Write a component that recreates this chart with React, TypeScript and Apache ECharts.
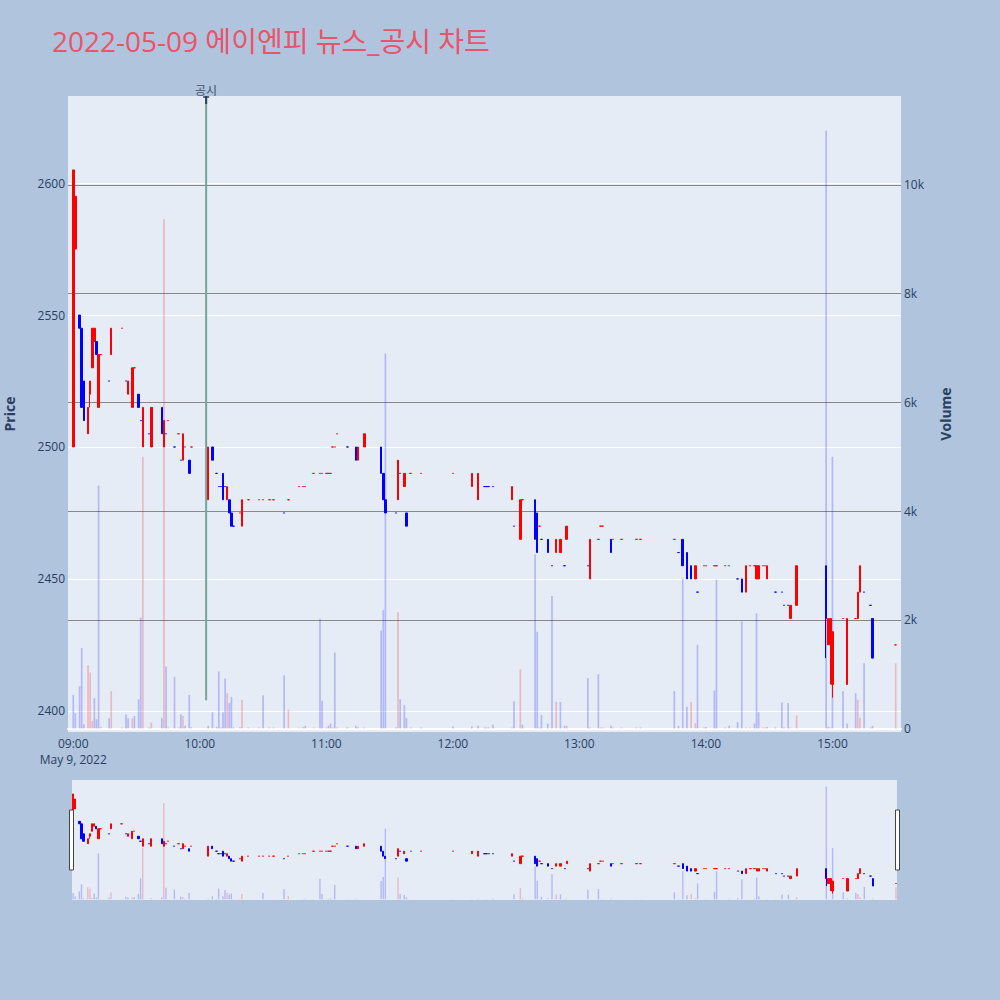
import React, { useEffect, useRef } from "react";
import * as echarts from "echarts";

const chartTitle = "2022-05-09 에이엔피 뉴스_공시 차트";
const dateLabel = "May 9, 2022";
const noticeTime = "10:03";
const noticeLabel = "공시";

const times = [
  "09:00","09:01","09:03","09:04","09:05","09:07","09:08","09:09","09:10","09:11",
  "09:12","09:13","09:17","09:18","09:23","09:25","09:26","09:28","09:29","09:31",
  "09:32","09:33","09:36","09:37","09:42","09:43","09:44","09:45","09:48","09:50",
  "09:51","09:52","09:53","09:55","09:56","10:04","10:06","10:08","10:09","10:10",
  "10:11","10:12","10:13","10:14","10:15","10:16","10:19","10:20","10:23","10:28",
  "10:30","10:33","10:35","10:40","10:42","10:47","10:49","10:50","10:54","10:57",
  "10:58","11:00","11:01","11:02","11:03","11:04","11:05","11:10","11:14","11:15",
  "11:18","11:26","11:27","11:28","11:33","11:34","11:35","11:37","11:38","11:40",
  "11:45","12:00","12:09","12:12","12:15","12:16","12:17","12:19","12:28","12:29",
  "12:32","12:33","12:39","12:40","12:41","12:42","12:45","12:47","12:49","12:51",
  "12:53","12:54","13:04","13:05","13:09","13:10","13:11","13:15","13:16","13:20",
  "13:27","13:29","13:45","13:47","13:49","13:51","13:53","13:55","13:56","13:59",
  "14:00","14:04","14:05","14:09","14:11","14:15","14:17","14:19","14:21","14:23",
  "14:24","14:25","14:27","14:28","14:29","14:33","14:36","14:37","14:39","14:40",
  "14:43","14:57","14:58","14:59","15:00","15:05","15:07","15:11","15:12","15:13",
  "15:15","15:18","15:19","15:30"
];
const opens = [
  2500,2575,2550,2545,2525,2505,2520,2530,2540,2540,
  2515,2535,2525,2535,2545,2525,2520,2515,2530,2520,
  2510,2500,2505,2500,2515,2500,2505,2510,2500,2505,
  2495,2495,2500,2495,2500,2480,2500,2490,2485,2485,
  2490,2485,2480,2480,2475,2470,2475,2470,2480,2480,
  2480,2480,2480,2475,2480,2485,2485,2485,2490,2490,
  2490,2490,2490,2490,2500,2500,2505,2500,2500,2495,
  2500,2500,2490,2480,2475,2480,2490,2485,2475,2490,
  2490,2490,2485,2480,2485,2485,2485,2485,2480,2470,
  2465,2480,2480,2475,2470,2465,2465,2455,2460,2460,
  2455,2465,2455,2450,2465,2470,2470,2465,2465,2465,
  2465,2465,2465,2460,2465,2460,2455,2450,2445,2455,
  2455,2455,2455,2455,2455,2450,2450,2445,2455,2455,
  2450,2450,2455,2455,2450,2445,2445,2440,2440,2435,
  2440,2455,2425,2425,2410,2435,2410,2435,2435,2445,
  2445,2440,2435,2425
];
const highs = [
  2605,2595,2550,2545,2525,2515,2525,2545,2545,2540,
  2535,2535,2525,2545,2545,2525,2525,2530,2530,2520,
  2510,2515,2505,2515,2515,2510,2505,2510,2500,2505,
  2495,2505,2500,2495,2500,2500,2500,2490,2485,2485,
  2490,2485,2485,2480,2475,2470,2475,2480,2480,2480,
  2480,2480,2480,2475,2480,2485,2485,2485,2490,2490,
  2490,2490,2490,2490,2500,2500,2505,2500,2500,2500,
  2505,2500,2490,2480,2475,2495,2490,2490,2475,2490,
  2490,2490,2490,2490,2485,2485,2485,2485,2485,2470,
  2480,2480,2480,2475,2470,2465,2465,2455,2465,2465,
  2455,2470,2455,2465,2465,2470,2470,2465,2465,2465,
  2465,2465,2465,2460,2465,2460,2455,2455,2445,2455,
  2455,2455,2455,2455,2455,2450,2450,2455,2455,2455,
  2455,2455,2455,2455,2455,2445,2445,2440,2440,2440,
  2455,2455,2435,2435,2430,2435,2435,2435,2445,2455,
  2445,2440,2435,2425
];
const lows = [
  2500,2575,2545,2515,2510,2505,2515,2530,2540,2535,
  2515,2535,2525,2535,2545,2525,2520,2515,2530,2515,
  2510,2500,2505,2500,2505,2500,2505,2510,2500,2505,
  2495,2495,2500,2490,2500,2480,2495,2490,2485,2485,
  2480,2485,2480,2475,2470,2470,2475,2470,2480,2480,
  2480,2480,2480,2475,2480,2485,2485,2485,2490,2490,
  2490,2490,2490,2490,2500,2500,2505,2500,2495,2495,
  2500,2490,2480,2475,2475,2480,2490,2485,2470,2490,
  2490,2490,2485,2480,2485,2485,2485,2485,2480,2470,
  2465,2480,2465,2460,2470,2465,2460,2455,2460,2460,
  2455,2465,2455,2450,2465,2470,2470,2460,2465,2465,
  2465,2465,2465,2460,2455,2450,2450,2450,2445,2455,
  2455,2455,2455,2455,2455,2450,2445,2445,2455,2455,
  2450,2450,2455,2455,2450,2445,2445,2440,2440,2435,
  2440,2420,2425,2410,2405,2435,2410,2435,2435,2445,
  2445,2440,2420,2425
];
const closes = [
  2605,2595,2545,2515,2510,2515,2525,2545,2545,2535,
  2535,2535,2525,2545,2545,2525,2525,2530,2530,2515,
  2510,2515,2505,2515,2505,2510,2505,2510,2500,2505,
  2495,2505,2500,2490,2500,2500,2495,2490,2485,2485,
  2480,2485,2485,2475,2470,2470,2475,2480,2480,2480,
  2480,2480,2480,2475,2480,2485,2485,2485,2490,2490,
  2490,2490,2490,2490,2500,2500,2505,2500,2495,2500,
  2505,2490,2480,2475,2475,2495,2490,2490,2470,2490,
  2490,2490,2490,2490,2485,2485,2485,2485,2485,2470,
  2480,2480,2465,2460,2470,2465,2460,2455,2465,2465,
  2455,2470,2455,2465,2465,2470,2470,2460,2465,2465,
  2465,2465,2465,2460,2455,2450,2450,2455,2445,2455,
  2455,2455,2455,2455,2455,2450,2445,2455,2455,2455,
  2455,2455,2455,2455,2455,2445,2445,2440,2440,2440,
  2455,2435,2435,2435,2430,2435,2435,2435,2445,2455,
  2445,2440,2420,2425
];
const candleDir = [
  "u","u","d","d","d","u","u","u","u","d",
  "u","u","d","u","u","d","u","u","u","d",
  "d","u","d","u","d","u","d","u","d","u",
  "d","u","u","d","u","u","d","d","d","d",
  "d","d","u","d","d","d","u","u","u","u",
  "u","u","u","d","u","u","u","u","u","u",
  "u","u","u","u","u","u","u","d","d","u",
  "u","d","d","d","d","u","d","u","d","u",
  "u","u","u","u","d","d","d","d","u","d",
  "u","u","d","d","u","d","d","d","u","u",
  "d","u","d","u","u","u","u","d","u","u",
  "u","u","u","d","d","d","d","u","d","u",
  "u","u","u","u","u","d","d","u","u","u",
  "u","u","u","u","u","d","d","d","d","u",
  "u","d","u","u","u","u","u","u","u","u",
  "d","d","d","u"
];
const volumes = [
  620,280,780,1480,80,1170,1030,140,560,170,
  4470,30,190,690,20,260,190,190,230,540,
  2040,5000,20,110,190,9370,1140,20,950,20,
  260,230,50,620,30,50,300,30,1050,20,
  300,920,650,470,580,20,30,530,20,20,
  610,20,20,980,350,20,30,50,20,2020,
  510,20,50,90,20,1400,20,20,50,30,
  20,1800,2180,6900,20,2140,540,430,190,20,
  20,40,40,50,20,20,20,70,20,500,
  1090,70,3200,1780,20,250,90,2440,490,490,
  50,50,930,20,1000,20,20,50,20,20,
  20,20,690,50,2760,400,490,100,1540,20,
  30,700,2740,20,50,120,1970,20,20,90,
  2120,300,20,20,30,20,480,20,470,20,
  240,11000,30,20,5000,690,90,650,530,200,
  1200,20,50,1200
];
const volumeDir = [
  "d","d","d","d","d","u","u","u","d","d",
  "d","u","d","u","u","d","d","u","d","d",
  "d","u","d","u","d","u","d","u","d","u",
  "d","u","d","d","u","d","d","d","d","d",
  "d","d","u","d","d","d","u","u","u","u",
  "d","u","u","d","u","u","u","d","u","d",
  "d","u","d","d","u","d","u","d","d","u",
  "u","d","d","d","d","u","d","d","d","u",
  "u","d","d","d","d","d","d","d","u","d",
  "u","d","d","d","u","d","d","d","u","d",
  "d","u","d","u","d","u","u","d","u","u",
  "u","u","d","d","d","d","u","u","d","u",
  "d","d","d","u","d","d","d","u","u","d",
  "d","d","u","u","d","d","d","d","d","u",
  "u","d","d","u","d","d","d","d","u","u",
  "d","d","d","u"
];

const UP = "#FF0000";
const DOWN = "#0000FF";
const UP_VOL = "rgba(255,0,0,0.22)";
const DOWN_VOL = "rgba(0,0,255,0.22)";
const FONT = '"Open Sans", "Noto Sans CJK KR", sans-serif';
const AXIS_COLOR = "#2a3f5f";

function minuteLabels(start: number, end: number): string[] {
  const out: string[] = [];
  for (let m = start; m <= end; m++) {
    const h = Math.floor(m / 60);
    const mm = m % 60;
    out.push(String(h).padStart(2, "0") + ":" + String(mm).padStart(2, "0"));
  }
  return out;
}

const mainCats = minuteLabels(8 * 60 + 58, 15 * 60 + 32);
const sliderCats = minuteLabels(9 * 60, 15 * 60 + 30);
const timeIndex = new Map(times.map((t, i) => [t, i] as [string, number]));

function candleData(cats: string[]) {
  return cats.map((c) => {
    const i = timeIndex.get(c);
    if (i === undefined) return "-";
    const col = candleDir[i] === "u" ? UP : DOWN;
    return {
      value: [opens[i], closes[i], lows[i], highs[i]],
      itemStyle: { color: col, color0: col, borderColor: col, borderColor0: col },
    };
  });
}

function volumeData(cats: string[]) {
  return cats.map((c) => {
    const i = timeIndex.get(c);
    if (i === undefined) return "-";
    return {
      value: volumes[i],
      itemStyle: { color: volumeDir[i] === "u" ? UP_VOL : DOWN_VOL },
    };
  });
}

export default function App() {
  const ref = useRef<HTMLDivElement>(null);
  useEffect(() => {
    document.body.style.margin = "0";
    document.body.style.background = "#B0C4DE";
    if (!ref.current) return;
    const chart = echarts.init(ref.current, undefined, { renderer: "svg" });
    const priceMin = 2392;
    const priceMax = 2633;
    const volMin = -64;
    const volMax = 11636;
    chart.setOption({
      animation: false,
      backgroundColor: "#B0C4DE",
      title: {
        text: chartTitle,
        left: 47,
        top: 22,
        textStyle: { color: "#EB5368", fontSize: 28, fontWeight: "normal", fontFamily: FONT },
      },
      grid: [
        { left: 68, top: 96, width: 833, height: 636, show: true, backgroundColor: "#E5ECF6", borderWidth: 0, containLabel: false, outerBoundsMode: "none" },
        { left: 72, top: 780, width: 825, height: 120, show: true, backgroundColor: "#E5ECF6", borderWidth: 0, containLabel: false, outerBoundsMode: "none" },
      ],
      xAxis: [
        {
          type: "category",
          gridIndex: 0,
          data: mainCats,
          boundaryGap: true,
          axisTick: { show: false },
          axisLine: { show: true, onZero: true, onZeroAxisIndex: 1, lineStyle: { color: "#ffffff", width: 2 } },
          splitLine: { show: false },
          axisLabel: {
            interval: (i: number, v: string) => v.endsWith(":00"),
            formatter: (v: string) => (v === "09:00" ? v + "\n" + dateLabel : v),
            color: AXIS_COLOR,
            fontSize: 12,
            fontFamily: FONT,
            lineHeight: 16,
            margin: 3,
          },
        },
        {
          type: "category",
          gridIndex: 1,
          data: sliderCats,
          boundaryGap: true,
          show: false,
        },
      ],
      yAxis: [
        {
          type: "value",
          gridIndex: 0,
          position: "left",
          min: priceMin,
          max: priceMax,
          splitNumber: 5,
          name: "Price",
          nameLocation: "middle",
          nameRotate: 90,
          nameGap: 52,
          nameTextStyle: { color: AXIS_COLOR, fontSize: 14, fontWeight: "bold", fontFamily: FONT },
          axisLine: { show: false },
          axisTick: { show: false },
          axisLabel: {
            color: AXIS_COLOR,
            fontSize: 12,
            fontFamily: FONT,
            margin: 3,
            showMinLabel: false,
            showMaxLabel: false,
            formatter: (v: number) => String(v),
          },
          splitLine: { show: true, showMinLine: false, showMaxLine: false, lineStyle: { color: "#ffffff", width: 1 } },
        },
        {
          type: "value",
          gridIndex: 0,
          position: "right",
          min: volMin,
          max: volMax,
          splitNumber: 6,
          name: "Volume",
          nameLocation: "middle",
          nameRotate: 90,
          nameGap: 37,
          nameTextStyle: { color: AXIS_COLOR, fontSize: 14, fontWeight: "bold", fontFamily: FONT },
          axisLine: { show: false },
          axisTick: { show: false },
          axisLabel: {
            color: AXIS_COLOR,
            fontSize: 12,
            fontFamily: FONT,
            margin: 3,
            showMinLabel: false,
            showMaxLabel: false,
            formatter: (v: number) => (v === 0 ? "0" : v / 1000 + "k"),
          },
          splitLine: { show: true, showMinLine: false, showMaxLine: false, lineStyle: { color: "#888888", width: 1 } },
        },
        { type: "value", gridIndex: 1, min: priceMin, max: priceMax, show: false, splitLine: { show: false } },
        { type: "value", gridIndex: 1, min: volMin, max: volMax, show: false, splitLine: { show: false } },
      ],
      series: [
        {
          type: "bar",
          xAxisIndex: 0,
          yAxisIndex: 1,
          barWidth: 1.7,
          data: volumeData(mainCats),
          z: 1,
        },
        {
          type: "candlestick",
          xAxisIndex: 0,
          yAxisIndex: 0,
          barWidth: 2,
          itemStyle: { borderWidth: 1 },
          data: candleData(mainCats),
          z: 2,
        },
        {
          type: "bar",
          xAxisIndex: 1,
          yAxisIndex: 3,
          barWidth: 1.4,
          data: volumeData(sliderCats),
          z: 1,
        },
        {
          type: "candlestick",
          xAxisIndex: 1,
          yAxisIndex: 2,
          barWidth: 1.8,
          itemStyle: { borderWidth: 1 },
          data: candleData(sliderCats),
          z: 2,
        },
      ],
    });

    const lx = chart.convertToPixel({ xAxisIndex: 0 }, noticeTime) as number;
    const topY = 96;
    const bottomY = chart.convertToPixel({ yAxisIndex: 0 }, priceMin) as number;
    const lineEnd = topY + (bottomY - topY) * 0.95;
    chart.setOption({
      graphic: [
        {
          type: "line",
          shape: { x1: lx, y1: topY, x2: lx, y2: lineEnd },
          style: { stroke: "#72A59C", lineWidth: 2 },
          z: 50,
        },
        {
          type: "line",
          shape: { x1: lx, y1: 96, x2: lx, y2: 104 },
          style: { stroke: "#2a3f5f", lineWidth: 2 },
          z: 51,
        },
        {
          type: "line",
          shape: { x1: lx - 3, y1: 97, x2: lx + 3, y2: 97 },
          style: { stroke: "#2a3f5f", lineWidth: 1.5 },
          z: 51,
        },
        {
          type: "text",
          x: lx,
          y: 89,
          style: {
            text: noticeLabel,
            fill: "#44546a",
            font: '12px "Noto Sans CJK KR", "Open Sans", sans-serif',
            align: "center",
            verticalAlign: "middle",
          },
          z: 51,
        },
        {
          type: "rect",
          shape: { x: 69.5, y: 810, width: 4, height: 60 },
          style: { fill: "#ffffff", stroke: "#444444", lineWidth: 1 },
          z: 60,
        },
        {
          type: "rect",
          shape: { x: 895.5, y: 810, width: 4, height: 60 },
          style: { fill: "#ffffff", stroke: "#444444", lineWidth: 1 },
          z: 60,
        },
      ],
    });
    return () => chart.dispose();
  }, []);
  return <div ref={ref} style={{ width: 1000, height: 1000 }} />;
}
